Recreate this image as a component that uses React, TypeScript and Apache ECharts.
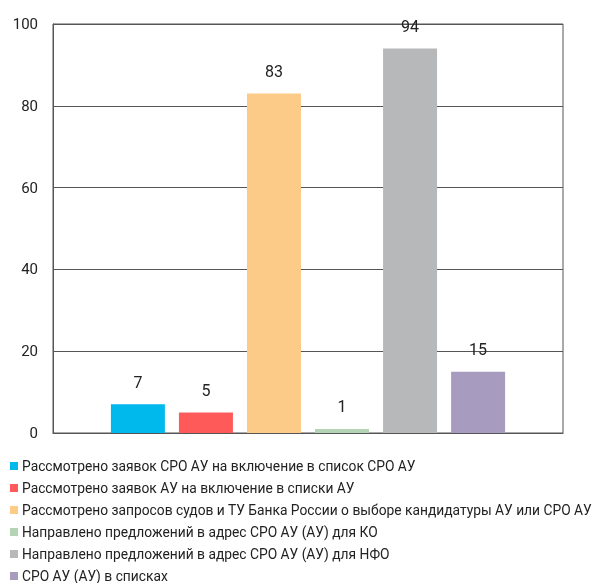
import React, { useEffect, useRef } from "react";
import * as echarts from "echarts";

const categories = [""];
const seriesNames = [
  "Рассмотрено заявок СРО АУ на включение в список СРО АУ",
  "Рассмотрено заявок АУ на включение в списки АУ",
  "Рассмотрено запросов судов и ТУ Банка России о выборе кандидатуры АУ или СРО АУ",
  "Направлено предложений в адрес СРО АУ (АУ) для КО",
  "Направлено предложений в адрес СРО АУ (АУ) для НФО",
  "СРО АУ (АУ) в списках",
];
const seriesValues = [7, 5, 83, 1, 94, 15];
const colors = ["#00B9EC", "#FF5A5A", "#FDCB88", "#B5D4B5", "#B7B8BA", "#A79CBF"];
const yTicks = [0, 20, 40, 60, 80, 100];

export default function App() {
  const ref = useRef<HTMLDivElement>(null);
  useEffect(() => {
    if (!ref.current) return;
    const chart = echarts.init(ref.current, null, { renderer: "svg" });
    chart.setOption({
      animation: false,
      textStyle: { fontFamily: "Roboto" },
      grid: {
        left: 53,
        right: 47,
        top: 24,
        bottom: 150,
        show: true,
        borderColor: "#555",
        borderWidth: 1,
      },
      legend: {
        orient: "vertical",
        left: 5,
        top: 454,
        height: 200,
        itemWidth: 8,
        itemHeight: 8,
        itemGap: 8,
        icon: "rect",
        textStyle: { fontSize: 13.8, color: "#222", padding: [0, 0, 0, -1] },
        data: seriesNames,
      },
      xAxis: {
        type: "category",
        data: categories,
        axisTick: { show: false },
        axisLabel: { show: false },
        axisLine: { lineStyle: { color: "#555" } },
      },
      yAxis: {
        type: "value",
        min: yTicks[0],
        max: yTicks[yTicks.length - 1],
        interval: 20,
        axisLabel: { fontSize: 15, color: "#222", margin: 15 },
        axisLine: { show: true, lineStyle: { color: "#555" } },
        axisTick: { show: false },
        splitLine: { lineStyle: { color: "#555" } },
      },
      series: seriesNames.map((name, i) => ({
        name,
        type: "bar",
        data: [seriesValues[i]],
        barWidth: 54,
        barGap: "26%",
        itemStyle: { color: colors[i] },
        label: {
          show: true,
          position: "top",
          distance: 14,
          fontSize: 16,
          color: "#222",
        },
      })),
    });
    return () => chart.dispose();
  }, []);
  return (
    <div
      ref={ref}
      style={{ position: "fixed", left: 0, top: 0, width: 610, height: 583 }}
    />
  );
}
